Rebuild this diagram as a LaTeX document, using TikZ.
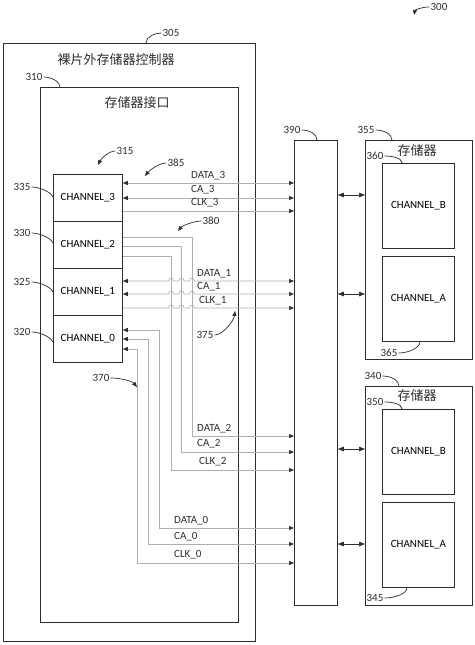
\documentclass[tikz,border=0pt]{standalone}
\usepackage{fontspec}
\setmainfont{Carlito}
\newfontfamily\cjk{Noto Sans CJK SC}
\usetikzlibrary{arrows.meta}
\definecolor{line1}{RGB}{45,45,45}
\definecolor{wire1}{RGB}{175,175,175}

\begin{document}
\begin{tikzpicture}[x=1pt,y=-1pt,
  box/.style={draw=line1, line width=0.8pt, anchor=north west, inner sep=0pt},
  chan/.style={box, minimum width=69pt, minimum height=47pt, font=\fontsize{11}{13}\selectfont},
  memch/.style={box, minimum width=72pt, minimum height=85pt, font=\fontsize{11}{13}\selectfont},
  wire/.style={draw=wire1, line width=0.6pt, >={Triangle[length=5pt,width=4pt,color=line1]}},
  bi/.style={draw=line1, line width=0.7pt, <->, >={Triangle[length=6pt,width=4.5pt]}},
  sig/.style={font=\fontsize{11}{13}\selectfont, anchor=west, inner sep=0pt, text=line1},
  ref/.style={font=\fontsize{11}{13}\selectfont, inner sep=1pt, text=line1},
  lead/.style={draw=line1, line width=0.7pt},
  ptr/.style={lead, -{Triangle[length=5pt,width=4pt]}},
  title/.style={font=\cjk\fontsize{13}{15}\selectfont, text=line1}]
\useasboundingbox (0,0) rectangle (474,645);

% controller and interface
\node[box, minimum width=252pt, minimum height=598pt] (ctrl) at (3,43) {};
\node[box, minimum width=198pt, minimum height=535pt] (iface) at (40,87) {};
\node[title] (ctrltext) at (116,60) {裸片外存储器控制器};
\node[title] (ifacetext) at (137,103) {存储器接口};

% channels
\node[chan] (ch3) at (53,174) {CHANNEL\_3};
\node[chan] (ch2) at (53,221) {CHANNEL\_2};
\node[chan] (ch1) at (53,268) {CHANNEL\_1};
\node[chan] (ch0) at (53,315) {CHANNEL\_0};

% bus and memories
\node[box, minimum width=43pt, minimum height=465pt] (bus) at (294,140) {};
\node[box, minimum width=107pt, minimum height=219pt] (mem1) at (365,140) {};
\node[box, minimum width=107pt, minimum height=219pt] (mem0) at (365,386) {};
\node[title] (mem1text) at (417,151) {存储器};
\node[title] (mem0text) at (417,396) {存储器};
\node[memch] (chb1) at (382,163) {CHANNEL\_B};
\node[memch] (cha1) at (382,256) {CHANNEL\_A};
\node[memch] (chb0) at (382,409) {CHANNEL\_B};
\node[memch] (cha0) at (382,502) {CHANNEL\_A};

% channel 3 wires
\draw[wire,<->] (ch3.east |- 0,183) -- (bus.west |- 0,183);
\draw[wire,<->] (ch3.east |- 0,198) -- (bus.west |- 0,198);
\draw[wire,->] (ch3.east |- 0,211) -- (bus.west |- 0,211);

% channel 2 wires
\draw[wire,->] (ch2.east |- 0,237) -| (192,436) -- (bus.west |- 0,436);
\draw[wire,->] (ch2.east |- 0,246) -| (181.5,452) -- (bus.west |- 0,452);
\draw[wire,->] (ch2.east |- 0,256) -| (171,470) -- (bus.west |- 0,470);

% channel 1 wires, hopping over channel 2
\draw[wire,<->] (ch1.east |- 0,281) \foreach \x in {171,181.5,192} {-- (\x-2.5,281) .. controls +(0,-4) and +(0,-4) .. (\x+2.5,281)} -- (bus.west |- 0,281);
\draw[wire,<->] (ch1.east |- 0,294) \foreach \x in {171,181.5,192} {-- (\x-2.5,294) .. controls +(0,-4) and +(0,-4) .. (\x+2.5,294)} -- (bus.west |- 0,294);
\draw[wire,->] (ch1.east |- 0,308) \foreach \x in {171,181.5,192} {-- (\x-2.5,308) .. controls +(0,-4) and +(0,-4) .. (\x+2.5,308)} -- (bus.west |- 0,308);

% channel 0 wires
\draw[wire,<->] (ch0.east |- 0,330) -| (159,528) -- (bus.west |- 0,528);
\draw[wire,<->] (ch0.east |- 0,339) -| (148,544) -- (bus.west |- 0,544);
\draw[wire,<->] (ch0.east |- 0,349) -| (137,563) -- (bus.west |- 0,563);

% signal names
\node[sig] (sd3) at (191,176) {DATA\_3};
\node[sig] (sa3) at (191,190) {CA\_3};
\node[sig] (sk3) at (191,203) {CLK\_3};
\node[sig] (sd1) at (197,274) {DATA\_1};
\node[sig] (sa1) at (197,287) {CA\_1};
\node[sig] (sk1) at (199,301) {CLK\_1};
\node[sig] (sd2) at (197,429) {DATA\_2};
\node[sig] (sa2) at (197,444) {CA\_2};
\node[sig] (sk2) at (199,462) {CLK\_2};
\node[sig] (sd0) at (174,521) {DATA\_0};
\node[sig] (sa0) at (174,537) {CA\_0};
\node[sig] (sk0) at (174,555) {CLK\_0};

% bus to memories
\draw[bi] (bus.east |- 0,195) -- (mem1.west |- 0,195);
\draw[bi] (bus.east |- 0,294) -- (mem1.west |- 0,294);
\draw[bi] (bus.east |- 0,449) -- (mem0.west |- 0,449);
\draw[bi] (bus.east |- 0,544) -- (mem0.west |- 0,544);

% reference numbers
\node[ref] (n300) at (439,7) {300};
\draw[ptr] (n300.west) .. controls +(-8,0) and +(1,-5) .. (414,15);
\node[ref] (n305) at (171,33) {305};
\draw[lead] (n305.west) .. controls +(-7,0) and +(0,-6) .. (ctrl.north -| 146,0);
\node[ref] (n310) at (34,77) {310};
\draw[lead] (n310.east) .. controls +(7,0) and +(0,-6) .. (iface.north -| 60,0);
\node[ref] (n335) at (22,187) {335};
\draw[lead] (n335.east) .. controls +(8,0) and +(-2,-5) .. (ch3.west |- 0,197);
\node[ref] (n330) at (22,233) {330};
\draw[lead] (n330.east) .. controls +(8,0) and +(-2,-5) .. (ch2.west |- 0,243);
\node[ref] (n325) at (22,282) {325};
\draw[lead] (n325.east) .. controls +(8,0) and +(-2,-5) .. (ch1.west |- 0,292);
\node[ref] (n320) at (22,332) {320};
\draw[lead] (n320.east) .. controls +(8,0) and +(-2,-5) .. (ch0.west |- 0,342);
\node[ref] (n315) at (125,151) {315};
\draw[ptr] (n315.west) .. controls +(-7,0) and +(3,-6) .. (98,165);
\node[ref] (n385) at (176,163) {385};
\draw[ptr] (n385.west) .. controls +(-8,0) and +(4,-5) .. (145,176);
\node[ref] (n380) at (211,221) {380};
\draw[ptr] (n380.west) .. controls +(-8,0) and +(4,-5) .. (178,231);
\node[ref] (n375) at (205,335) {375};
\draw[ptr] (n375.east) .. controls +(9,0) and +(-1,9) .. (235,311);
\node[ref] (n370) at (101,378) {370};
\draw[ptr] (n370.east) .. controls +(10,0) and +(-5,-6) .. (137,387);
\node[ref] (n390) at (292,130) {390};
\draw[lead] (n390.east) .. controls +(8,0) and +(0,-6) .. (bus.north -| 317,0);
\node[ref] (n355) at (366,130) {355};
\draw[lead] (n355.east) .. controls +(8,0) and +(0,-6) .. (mem1.north -| 392,0);
\node[ref] (n360) at (375,156) {360};
\draw[lead] (n360.east) .. controls +(8,0) and +(0,-5) .. (chb1.north -| 402,0);
\node[ref] (n365) at (389,353) {365};
\draw[lead] (n365.east) .. controls +(10,0) and +(0,6) .. (cha1.south -| 420,0);
\node[ref] (n340) at (373,376) {340};
\draw[lead] (n340.east) .. controls +(8,0) and +(0,-6) .. (mem0.north -| 399,0);
\node[ref] (n350) at (375,402) {350};
\draw[lead] (n350.east) .. controls +(8,0) and +(0,-5) .. (chb0.north -| 402,0);
\node[ref] (n345) at (375,598) {345};
\draw[lead] (n345.east) .. controls +(10,0) and +(0,6) .. (cha0.south -| 407,0);
\end{tikzpicture}
\end{document}
